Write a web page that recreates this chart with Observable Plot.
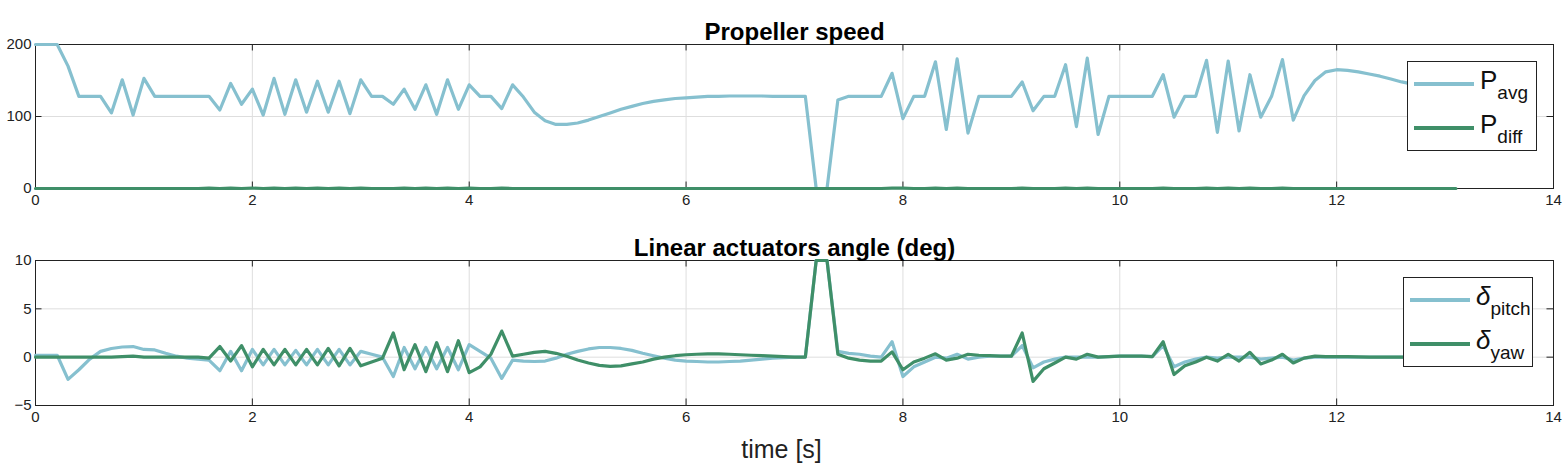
<!DOCTYPE html>
<html>
<head>
<meta charset="utf-8">
<script src="https://cdn.jsdelivr.net/npm/d3@7"></script>
<script src="https://cdn.jsdelivr.net/npm/@observablehq/plot@0.6"></script>
<style>
  body { margin: 0; background: #fff; font-family: "Liberation Sans", Arial, sans-serif; }
  #wrap { position: relative; width: 1563px; }
  #wrap svg { display: block; }
  .legend { position: absolute; background: #fff; border: 1px solid #222; font-size: 26px; color: #111; }
  .legend .row { display: flex; align-items: center; height: 44px; padding-left: 6px; }
  .legend .sw { width: 60px; height: 4px; margin-right: 6px; }
  .legend sub { font-size: 19px; vertical-align: -10px; }
  #xlabel { width: 1563px; margin-top: 2px; text-align: center; font-size: 25px; line-height: 30px; color: #222; }
</style>
</head>
<body>
<div id="wrap">
  <div id="top"></div>
  <div id="bottom"></div>
  <div id="xlabel">time [s]</div>
</div>
<script>
// sampled every 0.1 s
const step = 0.1
const pAvg = [200,200,200,170,128,128,128,105,151,102,153,128,128,128,128,128,128,109,146,117,
  138,102,153,103,151,106,149,106,149,104,151,128,128,117,138,110,144,103,151,110,
  144,128,128,111,144,127,106,94,89,89,91,95,100,105,110,114,118,121,123,125,
  126,127,128,128,128.5,128.5,128.5,128.5,128,128,128,128,0,0,123,128,128,128,128,160,
  97,128,128,176,82,180,77,128,128,128,128,148,108,128,128,172,86,181,75,128,
  128,128,128,128,158,99,128,128,178,78,177,80,158,99,128,179,95,129,150,162,
  165,164,162,159,156,152,148,145,141,138,135,133]
const pDiff = [0,0,0,0,0,0,0,0,0,0,0,0,0,0,0,0,0.5,0,0.5,0,
  0.5,0,0.5,0,0.5,0,0.5,0,0.5,0,0.5,0,0,0,0.5,0,0.5,0,0.5,0,
  0.5,0,0,0.5,0,0,0,0,0,0,0,0,0,0,0,0,0,0,0,0,
  0,0,0,0,0,0,0,0,0,0,0,0,0,0,0,0,0,0,0,0.5,
  0.5,0,0,0.5,0,0.5,0,0,0,0,0,0.5,0,0,0,0.5,0,0.5,0,0,
  0,0,0,0,0.5,0,0,0,0.5,0,0.5,0,0.5,0,0,0.5,0,0,0,0,
  0,0,0,0,0,0,0,0,0,0,0,0]
const dPitch = [0.2,0.2,0.2,-2.3,-1.3,-0.2,0.6,0.9,1.05,1.1,
  0.8,0.75,0.4,0.1,-0.1,-0.2,-0.3,-1.4,0.6,-1.4,
  0.8,-0.8,0.8,-0.8,0.7,-0.8,0.8,-0.8,0.8,-0.8,
  0.6,0.3,0,-2.0,1.0,-1.2,1.0,-1.2,1.0,-1.3,
  1.3,0.6,-0.1,-2.2,-0.3,-0.4,-0.45,-0.4,-0.1,0.3,
  0.6,0.85,1.0,1.0,0.9,0.7,0.4,0.15,-0.1,-0.3,
  -0.4,-0.45,-0.5,-0.5,-0.45,-0.4,-0.3,-0.2,-0.1,-0.05,
  0,0,10,10,0.6,0.4,0.3,0.1,0,1.6,
  -2.0,-1.0,-0.5,0,-0.1,0.3,-0.2,0,0.1,0.1,
  0.1,1.2,-1.1,-0.5,-0.2,0,0,0,0,0.05,
  0.1,0.1,0.1,0.05,1.2,-1.0,-0.5,-0.2,0,-0.1,
  0,0,0,-0.2,-0.1,0,-0.3,-0.1,0,0,
  0,0,0,0,0,0,0,0,0,0,0,0]
const dYaw = [0,0,0,0,0,0,0,0,0.05,0.1,
  0,0,0,0,0,0,-0.1,1.1,-0.4,1.2,
  -1.0,0.8,-0.8,0.8,-0.8,0.8,-0.8,0.9,-0.9,0.9,
  -0.9,-0.5,-0.1,2.5,-1.3,1.3,-1.5,1.5,-1.5,1.7,
  -1.6,-1.0,0.3,2.7,0.1,0.3,0.5,0.6,0.4,0.1,
  -0.3,-0.6,-0.85,-0.95,-0.9,-0.7,-0.5,-0.2,0,0.15,
  0.25,0.3,0.35,0.35,0.3,0.25,0.2,0.15,0.1,0.05,
  0,0,10,10,0.3,-0.1,-0.3,-0.4,-0.4,0.55,
  -1.3,-0.5,-0.1,0.35,-0.3,-0.1,0.3,0.2,0.15,0.1,
  0.1,2.5,-2.5,-1.2,-0.6,0,-0.2,0.3,0,0.05,
  0.1,0.1,0.1,0.05,1.6,-1.8,-0.9,-0.5,0,-0.4,
  0.3,-0.4,0.5,-0.7,-0.3,0.3,-0.6,-0.1,0.1,0.05,
  0.05,0.05,0.03,0,0,0,0,0,0,0,0,0]
const xTicks = [0,2,4,6,8,10,12,14]
const topTicks = [0,100,200]
const botTicks = [-5,0,5,10]

const blue = '#86c0cf', green = '#3f8f68'
const series = arr => arr.map((v, i) => ({t: +(i * step).toFixed(1), v}))

function panel({title, lines, yDomain, yTicks, marginTop, height}) {
  const tk = (yDomain[1] - yDomain[0]) * 0.045
  return Plot.plot({
    width: 1563, height, marginLeft: 35, marginRight: 10, marginTop, marginBottom: 27,
    style: {fontFamily: '"Liberation Sans", Arial, sans-serif', fontSize: '15px', color: '#222'},
    x: {domain: [0, 14], ticks: xTicks, tickSize: 0, tickPadding: 6, label: null},
    y: {domain: yDomain, ticks: yTicks, tickSize: 0, tickPadding: 4, label: null},
    marks: [
      Plot.gridX(xTicks, {stroke: '#dedede', strokeOpacity: 1}),
      Plot.gridY(yTicks, {stroke: '#dedede', strokeOpacity: 1}),
      // inward ticks, MATLAB style
      Plot.ruleX(xTicks, {y1: yDomain[0], y2: yDomain[0] + tk, stroke: '#222'}),
      Plot.ruleX(xTicks, {y1: yDomain[1], y2: yDomain[1] - tk, stroke: '#222'}),
      Plot.ruleY(yTicks, {x1: 0, x2: 0.06, stroke: '#222'}),
      Plot.ruleY(yTicks, {x1: 14, x2: 13.94, stroke: '#222'}),
      Plot.frame({stroke: '#222'}),
      ...lines.map(([arr, c]) => Plot.line(series(arr), {x: 't', y: 'v', stroke: c, strokeWidth: 3.2, clip: false})),
      Plot.text([title], {frameAnchor: 'top', dy: -22, fontSize: 24, fontWeight: 'bold', fill: '#000'})
    ]
  })
}

document.getElementById('top').append(panel({
  title: 'Propeller speed', lines: [[pAvg, blue], [pDiff, green]],
  yDomain: [0, 200], yTicks: topTicks, marginTop: 44, height: 215
}))
document.getElementById('bottom').append(panel({
  title: 'Linear actuators angle (deg)', lines: [[dPitch, blue], [dYaw, green]],
  yDomain: [-5, 10], yTicks: botTicks, marginTop: 45, height: 217
}))

const wrap = document.getElementById('wrap')
function legend(left, top, items) {
  const box = document.createElement('div')
  box.className = 'legend'
  box.style.left = left + 'px'; box.style.top = top + 'px'; box.style.width = '128px'
  box.innerHTML = items.map(([c, lab]) =>
    `<div class="row"><div class="sw" style="background:${c}"></div><span>${lab}</span></div>`).join('')
  wrap.append(box)
}
legend(1407, 61, [[blue, 'P<sub>avg</sub>'], [green, 'P<sub>diff</sub>']])
legend(1403, 277, [[blue, '<i>δ</i><sub>pitch</sub>'], [green, '<i>δ</i><sub>yaw</sub>']])
</script>
</body>
</html>
